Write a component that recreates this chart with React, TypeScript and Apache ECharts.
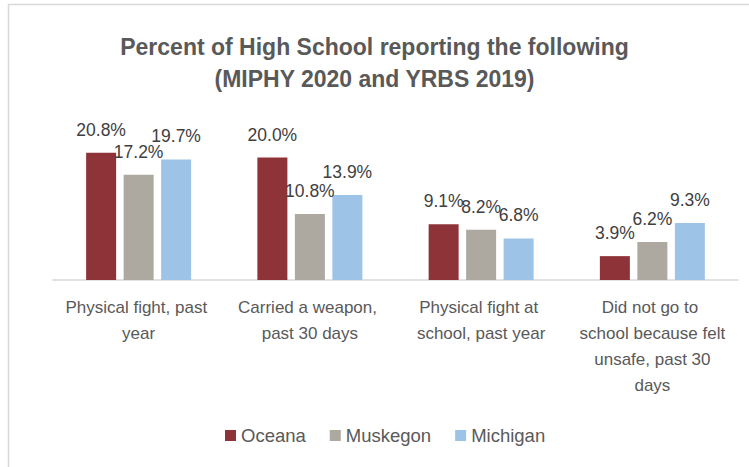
import React, { useEffect, useRef } from "react";
import * as echarts from "echarts";

const categories = [
  "Physical fight, past year",
  "Carried a weapon, past 30 days",
  "Physical fight at school, past year",
  "Did not go to school because felt unsafe, past 30 days",
];
const oceana = [20.8, 20.0, 9.1, 3.9];
const muskegon = [17.2, 10.8, 8.2, 6.2];
const michigan = [19.7, 13.9, 6.8, 9.3];
const seriesNames = ["Oceana", "Muskegon", "Michigan"];
const titleLines = ["Percent of High School reporting the following", "(MIPHY 2020 and YRBS 2019)"];

const colors = ["#8E3338", "#ADA9A1", "#9DC3E6"];

export default function App() {
  const ref = useRef<HTMLDivElement>(null);
  useEffect(() => {
    if (!ref.current) return;
    const chart = echarts.init(ref.current, null, { renderer: "svg" });
    const label = {
      show: true,
      position: "top",
      distance: 14,
      formatter: (p: any) => p.value.toFixed(1) + "%",
      color: "#404040",
      fontSize: 17.5,
      fontFamily: "Liberation Sans",
    };
    const data = [oceana, muskegon, michigan];
    chart.setOption({
      animation: false,
      backgroundColor: "#ffffff",
      color: colors,
      title: {
        text: titleLines.join("\n"),
        left: "center",
        top: 26,
        textStyle: {
          fontFamily: "Liberation Sans",
          fontWeight: "bold",
          fontSize: 23,
          lineHeight: 32,
          color: "#595959",
        },
      },
      graphic: [
        {
          type: "rect",
          shape: { x: 8.5, y: 4.5, width: 800, height: 500 },
          style: { fill: "none", stroke: "#D9D9D9", lineWidth: 1.5 },
          silent: true,
        },
      ],
      legend: {
        left: 220,
        top: 421,
        itemWidth: 11,
        itemHeight: 11,
        itemGap: 24,
        icon: "rect",
        textStyle: { fontFamily: "Liberation Sans", fontSize: 18.5, color: "#595959" },
        data: seriesNames,
      },
      grid: { left: 53, right: 11, top: 127, bottom: 187 },
      xAxis: {
        type: "category",
        data: categories,
        axisLine: { lineStyle: { color: "#D9D9D9", width: 1.5 } },
        axisTick: { show: false },
        axisLabel: {
          interval: 0,
          margin: 14,
          width: 148,
          overflow: "break",
          fontFamily: "Liberation Sans",
          fontSize: 17,
          lineHeight: 26,
          color: "#595959",
        },
      },
      yAxis: {
        type: "value",
        min: 0,
        max: 25,
        show: false,
        splitLine: { show: false },
      },
      series: seriesNames.map((name, i) => ({
        name,
        type: "bar",
        data: data[i],
        barWidth: 30,
        barGap: "25%",
        label,
        itemStyle: { color: colors[i] },
      })),
    });
    return () => chart.dispose();
  }, []);
  return (
    <div
      ref={ref}
      style={{ position: "absolute", left: 0, top: 0, width: 749, height: 467 }}
    />
  );
}
